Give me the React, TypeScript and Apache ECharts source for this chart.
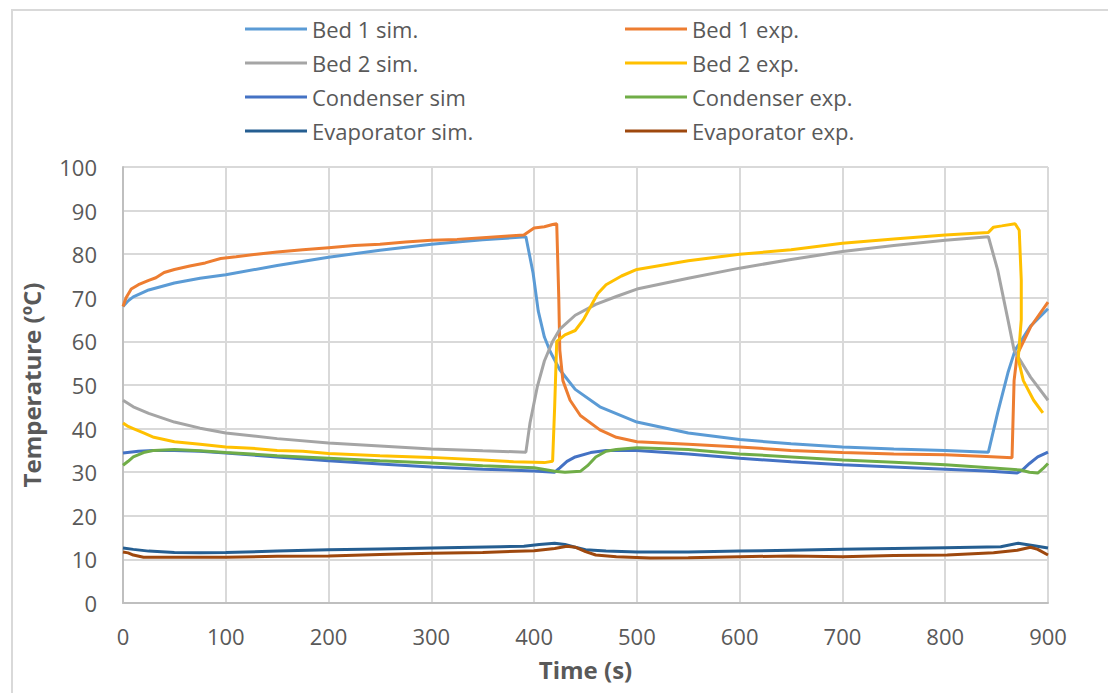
import React, { useEffect, useRef } from "react";
import * as echarts from "echarts";

const seriesNames = [
  "Bed 1 sim.",
  "Bed 1 exp.",
  "Bed 2 sim.",
  "Bed 2 exp.",
  "Condenser sim",
  "Condenser exp.",
  "Evaporator sim.",
  "Evaporator exp.",
];
const seriesColors = ["#5B9BD5", "#ED7D31", "#A5A5A5", "#FFC000", "#4472C4", "#70AD47", "#255E91", "#9E480E"];

const bed1Sim: [number, number][] = [
  [0, 68], [5, 69.3], [10, 70.2], [25, 71.8], [50, 73.4], [75, 74.5], [100, 75.3], [150, 77.4], [200, 79.3],
  [250, 80.9], [300, 82.3], [350, 83.3], [392, 84], [399, 75.7], [404, 67], [410, 61], [416, 57.5], [425, 53.5],
  [440, 49], [464, 45], [500, 41.5], [550, 39], [600, 37.5], [650, 36.5], [700, 35.8], [750, 35.3], [800, 35],
  [842, 34.6], [851, 43.6], [861, 52.8], [868, 58], [883, 63.5], [900, 67.5],
];
const bed1Exp: [number, number][] = [
  [0, 68], [3, 70], [8, 72], [15, 73], [25, 74], [32, 74.6], [40, 75.8], [50, 76.5], [65, 77.3], [80, 78],
  [95, 79], [110, 79.4], [130, 80], [150, 80.5], [175, 81], [200, 81.5], [225, 82], [250, 82.3], [275, 82.8],
  [300, 83.2], [325, 83.4], [350, 83.8], [375, 84.2], [390, 84.4], [400, 86], [410, 86.3], [418, 86.8], [422, 87],
  [424, 70], [425, 58], [428, 51], [435, 46.5], [445, 43], [464, 39.7], [480, 38], [500, 37], [550, 36.4],
  [600, 35.8], [650, 35], [700, 34.5], [750, 34.2], [800, 34], [840, 33.6], [865, 33.3], [867, 51], [870, 57],
  [883, 63.3], [900, 69],
];
const bed2Sim: [number, number][] = [
  [0, 46.5], [10, 45], [25, 43.5], [50, 41.5], [75, 40.1], [100, 39], [150, 37.7], [200, 36.7], [250, 36],
  [300, 35.3], [350, 34.9], [392, 34.6], [396, 41.3], [403, 49.5], [410, 55.5], [418, 60], [425, 62.8],
  [440, 66], [460, 68.5], [480, 70.3], [500, 72], [550, 74.5], [600, 76.8], [650, 78.8], [700, 80.6],
  [750, 82], [800, 83.2], [842, 84], [851, 76.4], [861, 65], [867, 58], [883, 51.8], [900, 46.5],
];
const bed2Exp: [number, number][] = [
  [0, 41.3], [5, 40.5], [10, 40], [20, 39], [30, 38], [50, 37], [75, 36.4], [100, 35.8], [125, 35.5],
  [150, 35], [175, 34.8], [200, 34.3], [250, 33.8], [300, 33.4], [350, 32.8], [380, 32.4], [410, 32.2],
  [418, 32.5], [420, 45], [422, 60], [430, 61.5], [440, 62.5], [448, 65], [455, 68], [462, 71], [470, 73],
  [485, 75], [500, 76.5], [550, 78.5], [600, 80], [650, 81], [700, 82.5], [750, 83.5], [800, 84.4], [842, 85],
  [847, 86.2], [855, 86.5], [868, 87], [872, 85.5], [874, 74], [874, 65], [871, 56], [876, 51], [886, 46.5],
  [895, 43.6],
];
const condenserSim: [number, number][] = [
  [0, 34.4], [15, 34.8], [30, 35], [50, 35], [75, 34.8], [100, 34.4], [150, 33.5], [200, 32.6], [250, 31.9],
  [300, 31.2], [350, 30.7], [400, 30.3], [420, 30], [425, 31], [432, 32.5], [440, 33.5], [455, 34.5],
  [470, 35], [500, 35], [550, 34.2], [600, 33.2], [650, 32.4], [700, 31.7], [750, 31.2], [800, 30.7],
  [840, 30.3], [870, 29.8], [875, 30.5], [882, 32], [890, 33.5], [900, 34.6],
];
const condenserExp: [number, number][] = [
  [0, 31.6], [5, 32.5], [10, 33.5], [20, 34.5], [30, 35], [50, 35.2], [75, 34.9], [100, 34.5], [150, 33.8],
  [200, 33.2], [250, 32.6], [300, 32.1], [350, 31.5], [400, 31], [420, 30.2], [430, 30], [445, 30.2],
  [452, 31.5], [460, 33.5], [470, 34.8], [480, 35.2], [500, 35.6], [550, 35.2], [600, 34.2], [650, 33.5],
  [700, 32.8], [750, 32.3], [800, 31.7], [850, 30.9], [873, 30.5], [882, 30], [890, 29.8], [895, 30.8],
  [900, 32],
];
const evaporatorSim: [number, number][] = [
  [0, 12.6], [10, 12.3], [25, 11.9], [50, 11.6], [75, 11.5], [100, 11.6], [150, 11.9], [200, 12.2],
  [250, 12.4], [300, 12.6], [367, 12.9], [390, 13], [405, 13.4], [420, 13.7], [430, 13.4], [440, 12.8],
  [450, 12.2], [470, 11.9], [500, 11.7], [550, 11.7], [600, 11.9], [650, 12.1], [700, 12.3], [750, 12.5],
  [800, 12.7], [854, 12.9], [871, 13.7], [885, 13.2], [900, 12.6],
];
const evaporatorExp: [number, number][] = [
  [0, 11.7], [5, 11.5], [10, 11], [20, 10.5], [50, 10.5], [100, 10.5], [150, 10.7], [200, 10.8],
  [250, 11.1], [300, 11.4], [350, 11.6], [400, 12], [420, 12.5], [432, 13], [440, 12.8], [450, 11.8],
  [460, 11], [480, 10.6], [513, 10.3], [550, 10.4], [600, 10.6], [650, 10.8], [700, 10.6], [750, 10.9],
  [802, 11], [847, 11.5], [870, 12.1], [883, 12.8], [890, 12.3], [900, 11],
];

const seriesData = [bed1Sim, bed1Exp, bed2Sim, bed2Exp, condenserSim, condenserExp, evaporatorSim, evaporatorExp];

const xMin = 0, xMax = 900, xStep = 100;
const yMin = 0, yMax = 100, yStep = 10;

const FONT = "'Open Sans', 'Liberation Sans', sans-serif";
const TEXT = "#595959";

export default function App() {
  const ref = useRef<HTMLDivElement>(null);
  useEffect(() => {
    if (!ref.current) return;
    const chart = echarts.init(ref.current, undefined, { renderer: "svg" });
    const legendBase = {
      orient: "vertical" as const,
      top: 17,
      padding: 0,
      itemWidth: 62,
      itemHeight: 3,
      itemGap: 10,
      icon: "rect",
      textStyle: { color: TEXT, fontSize: 22, fontFamily: FONT, lineHeight: 24 },
    };
    chart.setOption({
      animation: false,
      backgroundColor: "#ffffff",
      textStyle: { fontFamily: FONT },
      graphic: [
        {
          type: "rect",
          shape: { x: 12, y: 10, width: 1110, height: 700 },
          style: { fill: "none", stroke: "#d9d9d9", lineWidth: 2 },
          silent: true,
        },
      ],
      legend: [
        { ...legendBase, left: 245, data: [seriesNames[0], seriesNames[2], seriesNames[4], seriesNames[6]] },
        { ...legendBase, left: 625, data: [seriesNames[1], seriesNames[3], seriesNames[5], seriesNames[7]] },
      ],
      grid: { left: 123, top: 167, right: 60, bottom: 90, containLabel: false },
      xAxis: {
        type: "value",
        min: xMin,
        max: xMax,
        interval: xStep,
        name: "Time (s)",
        nameLocation: "middle",
        nameGap: 54,
        nameTextStyle: { color: TEXT, fontSize: 24, fontWeight: "bold", fontFamily: FONT },
        axisLine: { show: true, lineStyle: { color: "#bfbfbf", width: 2 } },
        axisTick: { show: false },
        axisLabel: { color: TEXT, fontSize: 22, margin: 22, fontFamily: FONT },
        splitLine: { show: true, lineStyle: { color: "#d9d9d9", width: 2 } },
      },
      yAxis: {
        type: "value",
        min: yMin,
        max: yMax,
        interval: yStep,
        name: "Temperature (ºC)",
        nameLocation: "middle",
        nameGap: 80,
        nameTextStyle: { color: TEXT, fontSize: 24, fontWeight: "bold", fontFamily: FONT },
        axisLine: { show: true, lineStyle: { color: "#bfbfbf", width: 2 } },
        axisTick: { show: false },
        axisLabel: { color: TEXT, fontSize: 22, margin: 26, fontFamily: FONT },
        splitLine: { show: true, lineStyle: { color: "#d9d9d9", width: 2 } },
      },
      series: seriesNames.map((name, i) => ({
        name,
        type: "line",
        data: seriesData[i],
        symbol: "none",
        smooth: false,
        color: seriesColors[i],
        lineStyle: { width: 3, color: seriesColors[i] },
      })),
    });
    return () => chart.dispose();
  }, []);
  return <div ref={ref} style={{ position: "fixed", left: 0, top: 0, width: 1108, height: 693 }} />;
}
